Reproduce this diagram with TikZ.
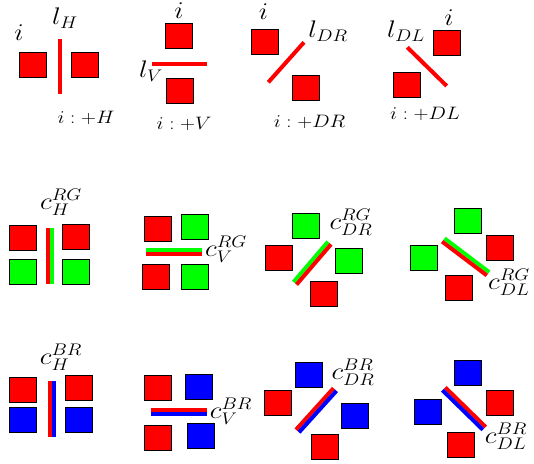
\documentclass[tikz,border=0pt]{standalone}
\usepackage{fix-cm}
\definecolor{verdep}{RGB}{0,255,0}
\newcommand{\ancho}[1]{\scalebox{1.15}[1]{#1}}

\begin{document}
\begin{tikzpicture}[x=1pt, y=-1pt,
        cuadro/.style={draw, line width=0.9pt, minimum width=27pt, minimum height=25pt, inner sep=0pt},
        rojo/.style={cuadro, fill=red},
        verde/.style={cuadro, fill=verdep},
        azul/.style={cuadro, fill=blue},
        barra/.style={line width=4pt},
        etiq/.style={font=\fontsize{24}{27}\selectfont, inner sep=0pt},
        pie/.style={font=\fontsize{18}{21}\selectfont, inner sep=0pt}
    ]
        \useasboundingbox (0,0) rectangle (534,463);
        % fila superior: lineas simples
        \node[rojo] (hA) at (32.5,64.5) {};
        \node[rojo] (hB) at (85,64.5) {};
        \draw[barra, red] (60,39) -- (60,94.3);
        \node[etiq] (hi) at (19,33) {\ancho{$i$}};
        \node[etiq] (hl) at (65,18) {\ancho{$l_H$}};
        \node[pie] (hpie) at (86,118) {\ancho{$i : +H$}};

        \node[rojo] (vA) at (178.8,36.3) {};
        \node[rojo] (vB) at (180.2,91.3) {};
        \draw[barra, red] (151.7,64.3) -- (207.3,64.3);
        \node[etiq] (vi) at (179,10.5) {\ancho{$i$}};
        \node[etiq] (vl) at (151,71) {\ancho{$l_V$}};
        \node[pie] (vpie) at (184,124) {\ancho{$i : +V$}};

        \node[rojo] (drA) at (264.5,42) {};
        \node[rojo] (drB) at (306.2,87.8) {};
        \draw[barra, red] (268.3,82.3) -- (304,42.3);
        \node[etiq] (dri) at (263.5,12) {\ancho{$i$}};
        \node[etiq] (drl) at (328,31) {\ancho{$l_{DR}$}};
        \node[pie] (drpie) at (309.5,122) {\ancho{$i : +DR$}};

        \node[rojo] (dlA) at (446.8,42.8) {};
        \node[rojo] (dlB) at (406.7,85.3) {};
        \draw[barra, red] (407.3,47.3) -- (446.7,86);
        \node[etiq] (dli) at (449,18) {\ancho{$i$}};
        \node[etiq] (dll) at (406,31) {\ancho{$l_{DL}$}};
        \node[pie] (dlpie) at (425,114) {\ancho{$i : +DL$}};

        % fila media: rojo y verde
        \node[rojo] (rgh1) at (22.5,237.8) {};
        \node[rojo] (rgh2) at (75.5,237) {};
        \node[verde] (rgh3) at (23.2,271.7) {};
        \node[verde] (rgh4) at (75.5,272.3) {};
        \draw[barra, red] (48,227.7) -- (48,284);
        \draw[barra, verdep] (52.2,227.7) -- (52.2,284);
        \node[etiq] (rghl) at (61,202) {\ancho{$c_H^{RG}$}};

        \node[rojo] (rgv1) at (157.5,228.8) {};
        \node[verde] (rgv2) at (194.8,227.2) {};
        \node[rojo] (rgv3) at (155.8,276.8) {};
        \node[verde] (rgv4) at (194.8,277.2) {};
        \draw[barra, verdep] (146,249.6) -- (202.3,249.6);
        \draw[barra, red] (146,253.8) -- (202.3,253.8);
        \node[etiq] (rgvl) at (226,249) {\ancho{$c_V^{RG}$}};

        \node[verde] (rgdr1) at (305.8,226.2) {};
        \node[rojo] (rgdr2) at (279,257.5) {};
        \node[verde] (rgdr3) at (348.5,260.8) {};
        \node[rojo] (rgdr4) at (323.8,293.8) {};
        \draw[barra, verdep] (293.5,282) -- (328,241.7);
        \draw[barra, red] (296.5,284.6) -- (331,244.3);
        \node[etiq] (rgdrl) at (351,222) {\ancho{$c_{DR}^{RG}$}};

        \node[verde] (rgdl1) at (467.8,220.5) {};
        \node[rojo] (rgdl2) at (500,247.5) {};
        \node[verde] (rgdl3) at (423.5,258.3) {};
        \node[rojo] (rgdl4) at (458.5,287.8) {};
        \draw[barra, verdep] (444.5,238.4) -- (489.2,272.2);
        \draw[barra, red] (442.1,241.6) -- (486.8,275.4);
        \node[etiq] (rgdll) at (509,282) {\ancho{$c_{DL}^{RG}$}};

        % fila inferior: azul y rojo
        \node[rojo] (brh1) at (22.5,389.5) {};
        \node[rojo] (brh2) at (79.2,388.2) {};
        \node[azul] (brh3) at (22.8,420.3) {};
        \node[azul] (brh4) at (78.8,420.3) {};
        \draw[barra, red] (49.5,381) -- (49.5,437.3);
        \draw[barra, blue] (53.8,381) -- (53.8,437.3);
        \node[etiq] (brhl) at (61,357) {\ancho{$c_H^{BR}$}};

        \node[rojo] (brv1) at (158.3,388) {};
        \node[azul] (brv2) at (199.2,386.7) {};
        \node[rojo] (brv3) at (158.3,438) {};
        \node[azul] (brv4) at (200.5,436.3) {};
        \draw[barra, red] (151,409.5) -- (206.7,409.5);
        \draw[barra, blue] (151,413.9) -- (206.7,413.9);
        \node[etiq] (brvl) at (231,411) {\ancho{$c_V^{BR}$}};

        \node[azul] (brdr1) at (309.2,374.7) {};
        \node[rojo] (brdr2) at (277.5,403) {};
        \node[azul] (brdr3) at (354.8,415.5) {};
        \node[rojo] (brdr4) at (324.5,446.8) {};
        \draw[barra, red] (296,429.7) -- (333.5,388.2);
        \draw[barra, blue] (299,432.3) -- (336.5,390.8);
        \node[etiq] (brdrl) at (353,372) {\ancho{$c_{DR}^{BR}$}};

        \node[azul] (brdl1) at (468.3,372.8) {};
        \node[rojo] (brdl2) at (500.2,402.8) {};
        \node[azul] (brdl3) at (428.2,412.2) {};
        \node[rojo] (brdl4) at (461.2,444.5) {};
        \draw[barra, red] (445.2,387.4) -- (485.6,426.9);
        \draw[barra, blue] (442.4,390.2) -- (482.8,429.7);
        \node[etiq] (brdll) at (506,436) {\ancho{$c_{DL}^{BR}$}};
    \end{tikzpicture}
\end{document}
